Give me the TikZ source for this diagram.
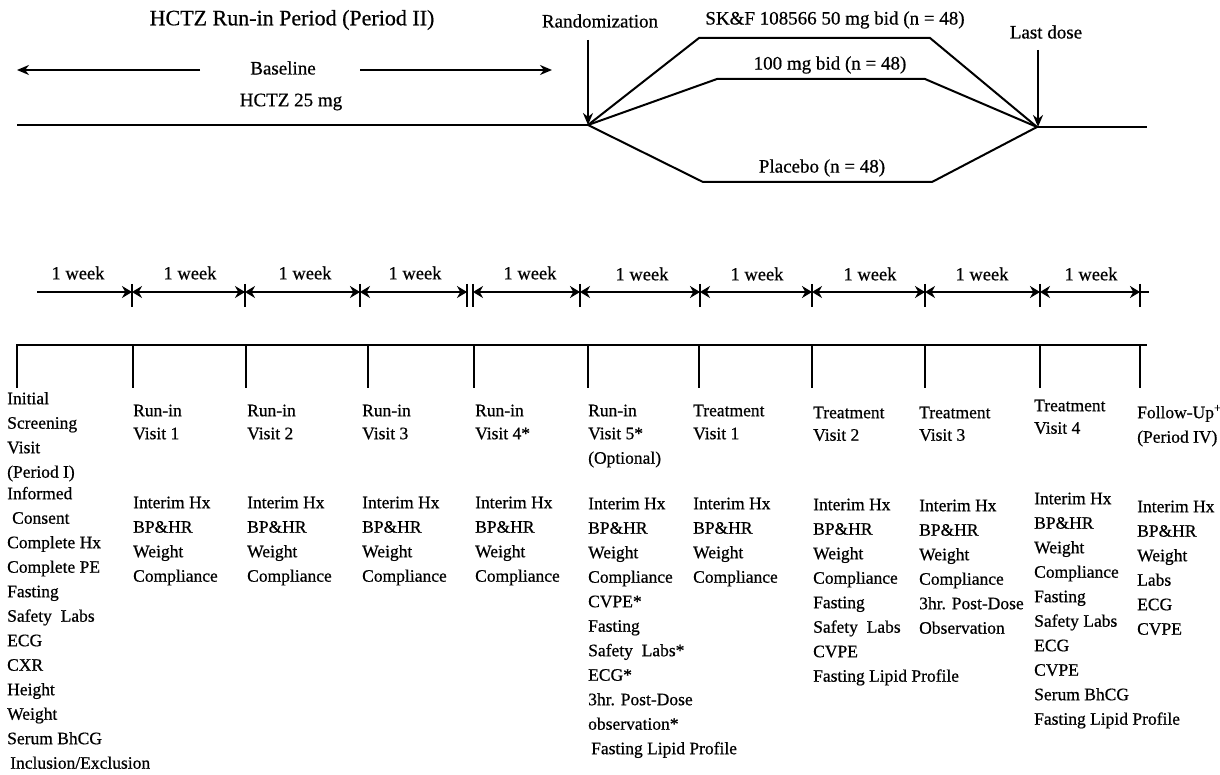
\documentclass[tikz,border=0pt]{standalone}
\usepackage{fontspec}
\setmainfont{Liberation Serif}[FakeBold=0.6]
\usetikzlibrary{arrows.meta}
\begin{document}
\begin{tikzpicture}[x=1pt,y=-1pt,
  body/.style={inner sep=0pt, font=\fontsize{17.5}{24.5}\selectfont, align=left, anchor=north west},
  toplbl/.style={inner sep=0pt, font=\fontsize{19}{22}\selectfont},
  titlelbl/.style={inner sep=0pt, font=\fontsize{22}{26}\selectfont},
  weeklbl/.style={inner sep=0pt, font=\fontsize{18.5}{22}\selectfont},
  mainln/.style={line width=2.2pt},
  branchln/.style={line width=2pt},
  downarr/.style={line width=2pt, -{Stealth[length=12pt,width=10pt]}},
  sidearr/.style={line width=2.2pt, -{Stealth[length=12pt,width=10pt]}},
  wkln/.style={line width=2.6pt},
  wktip/.tip={Stealth[length=10pt,width=12pt]},
  tickln/.style={line width=1.8pt},
  brk/.style={line width=2.2pt},
]
\useasboundingbox (0,0) rectangle (1220,775);

% ---------- top part ----------
\node[titlelbl] (title) at (292,20) {HCTZ Run-in Period (Period II)};
\node[toplbl] (rand) at (600,21) {Randomization};
\node[toplbl] (skf) at (835,20) {SK\&F 108566 50 mg bid (n = 48)};
\node[toplbl] (lastd) at (1046,32) {Last dose};
\node[toplbl] (basel) at (283,68) {Baseline};
\node[toplbl] (hctz) at (291,102) {HCTZ 25 mg};
\node[toplbl] (mg100) at (830,65) {100 mg bid (n = 48)};
\node[toplbl] (plac) at (822,168) {Placebo (n = 48)};

\coordinate (bl1) at (200,70); \coordinate (bl0) at (17,70);
\coordinate (br0) at (360,70); \coordinate (br1) at (552,70);
\draw[sidearr] (bl1) -- (bl0);
\draw[sidearr] (br0) -- (br1);

\coordinate (m0) at (17,125);
\coordinate (R) at (588,125);
\coordinate (C) at (1037,127);
\coordinate (m1) at (1147,127);
\draw[mainln] (m0) -- (R);
\draw[mainln] (C) -- (m1);

\coordinate (ra) at (588,40);
\coordinate (la) at (1038,50);
\coordinate (lt) at (1038,127);
\draw[downarr] (ra) -- (R);
\draw[downarr] (la) -- (lt);

\coordinate (a1) at (699,38);  \coordinate (a2) at (930,38);
\coordinate (b1) at (717,79);  \coordinate (b2) at (925,79);
\coordinate (c1) at (703,182); \coordinate (c2) at (932,182);
\draw[branchln] (R) -- (a1) -- (a2) -- (C);
\draw[branchln] (R) -- (b1) -- (b2) -- (C);
\draw[branchln] (R) -- (c1) -- (c2) -- (C);

% ---------- week timeline ----------
\coordinate (t0) at (37,292);
\coordinate (t1) at (132,292);
\coordinate (t2) at (245,292);
\coordinate (t3) at (360,292);
\coordinate (t4) at (467,292);
\coordinate (t4b) at (473,292);
\coordinate (t5) at (580,292);
\coordinate (t6) at (700,292);
\coordinate (t7) at (812,292);
\coordinate (t8) at (925,292);
\coordinate (t9) at (1040,292);
\coordinate (t10) at (1140,292);
\coordinate (tend) at (1149,292);
\draw[wkln,-{wktip}] (t0) -- (t1);
\draw[wkln,{wktip}-{wktip}] (t1) -- (t2);
\draw[wkln,{wktip}-{wktip}] (t2) -- (t3);
\draw[wkln,{wktip}-{wktip}] (t3) -- (t4);
\draw[wkln,{wktip}-{wktip}] (t4b) -- (t5);
\draw[wkln,{wktip}-{wktip}] (t5) -- (t6);
\draw[wkln,{wktip}-{wktip}] (t6) -- (t7);
\draw[wkln,{wktip}-{wktip}] (t7) -- (t8);
\draw[wkln,{wktip}-{wktip}] (t8) -- (t9);
\draw[wkln,{wktip}-{wktip}] (t9) -- (t10);
\draw[wkln] (t10) -- (tend);
\foreach \x in {132,245,360,467,473,580,700,812,925,1040,1140}
  \draw[tickln] (\x,284) -- (\x,307);

\node[weeklbl] (w1) at (78,273) {1 week};
\node[weeklbl] (w2) at (190,273) {1 week};
\node[weeklbl] (w3) at (305,273) {1 week};
\node[weeklbl] (w4) at (415,273) {1 week};
\node[weeklbl] (w5) at (530,273) {1 week};
\node[weeklbl] (w6) at (642,274) {1 week};
\node[weeklbl] (w7) at (757,274) {1 week};
\node[weeklbl] (w8) at (870,274) {1 week};
\node[weeklbl] (w9) at (982,274) {1 week};
\node[weeklbl] (w10) at (1091,274) {1 week};

% ---------- bracket ----------
\coordinate (k0) at (17,345);
\coordinate (k1) at (1147,345);
\draw[brk] (k0) -- (k1);
\foreach \x in {17,133,246,368,474,588,699,812,925,1040,1140}
  \draw[brk] (\x,344) -- (\x,388);

% ---------- visit columns ----------
\node[body] (v0a) at (7,386.85) {\strut Initial\\Screening\\Visit\\(Period I)};
\node[body] (v0b) at (7,481.85) {\strut Informed\\\hspace{5pt}Consent\\Complete Hx\\Complete PE\\Fasting\\Safety\ \ Labs\\ECG\\CXR\\Height\\Weight\\Serum BhCG\\\hspace{3pt}Inclusion/Exclusion};

\node[body] (v1h) at (133,398.85) {\strut Run-in\\[-1.5pt]Visit 1};
\node[body] (v1l) at (133,490.85) {\strut Interim Hx\\BP\&HR\\Weight\\Compliance};
\node[body] (v2h) at (247,398.85) {\strut Run-in\\[-1.5pt]Visit 2};
\node[body] (v2l) at (247,490.85) {\strut Interim Hx\\BP\&HR\\Weight\\Compliance};
\node[body] (v3h) at (362,398.85) {\strut Run-in\\[-1.5pt]Visit 3};
\node[body] (v3l) at (362,490.85) {\strut Interim Hx\\BP\&HR\\Weight\\Compliance};
\node[body] (v4h) at (475,398.85) {\strut Run-in\\[-1.5pt]Visit 4*};
\node[body] (v4l) at (475,490.85) {\strut Interim Hx\\BP\&HR\\Weight\\Compliance};
\node[body] (v5h) at (588,398.85) {\strut Run-in\\[-1.5pt]Visit 5*\\(Optional)};
\node[body] (v5l) at (588,491.85) {\strut Interim Hx\\BP\&HR\\Weight\\Compliance\\CVPE*\\Fasting\\Safety\ \ Labs*\\ECG*\\3hr. Post-Dose\\observation*\\\hspace{3pt}Fasting Lipid Profile};

\node[body] (t1h) at (693,398.85) {\strut Treatment\\[-1.5pt]Visit 1};
\node[body] (t1l) at (693,491.85) {\strut Interim Hx\\BP\&HR\\Weight\\Compliance};
\node[body] (t2h) at (813,400.85) {\strut Treatment\\[-2pt]Visit 2};
\node[body] (t2l) at (813,492.85) {\strut Interim Hx\\BP\&HR\\Weight\\Compliance\\Fasting\\Safety\ \ Labs\\CVPE\\Fasting Lipid Profile};
\node[body] (t3h) at (919,400.85) {\strut Treatment\\[-2pt]Visit 3};
\node[body] (t3l) at (919,493.85) {\strut Interim Hx\\BP\&HR\\Weight\\Compliance\\3hr. Post-Dose\\Observation};
\node[body] (t4h) at (1034,393.85) {\strut Treatment\\[-2pt]Visit 4};
\node[body] (t4l) at (1034,486.85) {\strut Interim Hx\\BP\&HR\\Weight\\Compliance\\Fasting\\Safety Labs\\ECG\\CVPE\\Serum BhCG\\Fasting Lipid Profile};
\node[body] (fuh) at (1137,400.85) {\strut Follow-Up\textsuperscript{+}\\(Period IV)};
\node[body] (ful) at (1137,494.85) {\strut Interim Hx\\BP\&HR\\Weight\\Labs\\ECG\\CVPE};
\end{tikzpicture}
\end{document}
